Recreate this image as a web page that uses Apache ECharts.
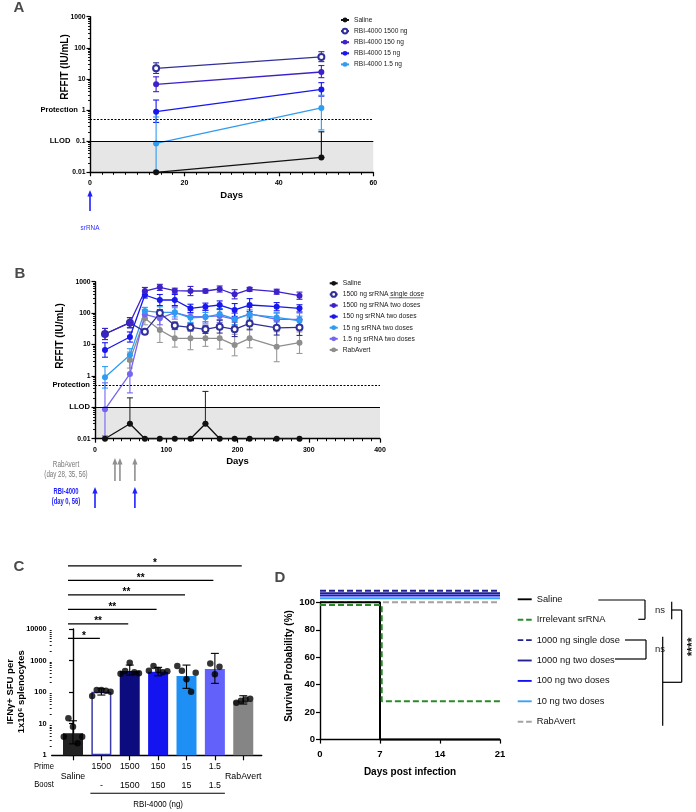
<!DOCTYPE html>
<html><head><meta charset="utf-8">
<script src="https://cdn.jsdelivr.net/npm/echarts@6/dist/echarts.min.js"></script>
<style>html,body{margin:0;padding:0;background:#fff}#c{width:696px;height:812px}</style>
</head><body><div id="c"></div>
<script>
// ---------------- Panel A data ----------------
const daysA = [14, 49];
const aSaline = [0.01, 0.03];
const aSalineHi = [0.01, 0.2];
const a1500 = [22, 51];
const a1500Lo = [15, 36];
const a1500Hi = [33, 75];
const a150 = [6.7, 16.7];
const a150Lo = [3.9, 11];
const a150Hi = [11.7, 27];
const a15 = [0.89, 4.6];
const a15Lo = [0.40, 2.8];
const a15Hi = [2.1, 7.6];
const a1p5 = [0.085, 1.17];
const a1p5Lo = [0.011, 0.23];
const a1p5Hi = [0.6, 3.0];
const protectionLevel = 0.5;
const llodLevel = 0.1;
const aArrowDays = [0];

// ---------------- Panel B data ----------------
const daysB = [14, 49, 70, 91, 112, 134, 155, 175, 196, 217, 255, 287];
const bSaline = [0.01, 0.03, 0.01, 0.01, 0.01, 0.01, 0.03, 0.01, 0.01, 0.01, 0.01, 0.01];
const bSalineHi = [null, 0.2, null, null, null, null, 0.32, null, null, null, null, null];
const b1500Single = [21.6, 49.5, 25.6, 100, 40, 35, 30.5, 37, 30.5, 47, 34, 35];
const b1500SingleF = [1.5, 1.45, 1.2, 1.3, 1.3, 1.3, 1.35, 1.6, 1.7, 1.6, 1.7, 1.8];
const b1500Two = [21.6, 49.5, 505, 660, 518, 505, 505, 585, 398, 571, 480, 358];
const b1500TwoF = [1.5, 1.45, 1.3, 1.25, 1.2, 1.4, 1.15, 1.25, 1.4, 1.15, 1.2, 1.3];
const b150 = [6.7, 17.3, 377, 261, 261, 142, 160, 181, 126, 181, 160, 142];
const b150F = [1.7, 1.45, 1.25, 1.5, 1.5, 1.35, 1.3, 1.35, 1.6, 1.6, 1.35, 1.3];
const b15 = [0.90, 4.6, 117, 106, 106, 71, 75, 93, 65, 91, 73, 57];
const b15F = [2.2, 1.6, 1.3, 1.5, 1.4, 1.4, 1.4, 1.5, 1.5, 1.4, 1.4, 1.4];
const b1p5 = [0.086, 1.15, 91, 68, 103, 77, 77, 81, 63, 94, 63, 63];
const b1p5F = [7, 4, 1.4, 1.6, 1.6, 1.6, 1.6, 1.6, 1.6, 1.6, 1.6, 1.6];
const bRab = [null, 3.2, 68, 29, 15.7, 15.7, 15.7, 15.7, 9.6, 15.7, 8.5, 11.4];
const bRabF = [null, 1.8, 1.6, 2.5, 1.9, 2.3, 1.8, 2.2, 2.2, 2.0, 3.0, 2.2];
const bRabArrowDays = [28, 35, 56];
const bRbiArrowDays = [0, 56];

// ---------------- Panel C data ----------------
const cPrime = ['Saline', '1500', '1500', '150', '15', '1.5', 'RabAvert'];
const cBoost = ['', '-', '1500', '150', '15', '1.5', ''];
const cMean = [5.0, 103, 465, 440, 323, 538, 53];
const cLo = [2.3, 81, 347, 330, 132, 190, 42];
const cHi = [12.4, 128, 720, 610, 720, 1690, 77];
const cPtsSaline = [3.9, 14.8, 8.0, 2.4, 3.9];
const cPts1500 = [75, 116, 116, 111, 103];
const cPts1500b = [380, 470, 850, 430, 400];
const cPts150 = [480, 670, 500, 424, 455];
const cPts15 = [670, 475, 254, 103, 411];
const cPts1p5 = [815, 366, 634];
const cPtsRab = [46, 53, 59, 62];
const cSigTargets = [1, 2, 3, 4, 5, 6];
const cSigLabels = ['*', '**', '**', '**', '**', '*'];

// ---------------- Panel D data ----------------
const dDaysSaline = [0, 7, 21];
const dSaline = [100, 0, 0];
const dDaysIrr = [0, 7.2, 21];
const dIrr = [98, 28, 28];
const dDaysFlat = [0, 21];
const d1000Single = [108.5, 108.5];
const d1000Two = [106.6, 106.6];
const d100 = [105, 105];
const d10 = [103, 103];
const dRab = [100, 100];

// ---------------- styling ----------------
const SANS = '"Liberation Sans",Arial,sans-serif';
const C = {
  black: '#111111', navy: '#30309a', violet: '#3c22c8', blue: '#1717ee',
  lblue: '#2f9cf2', lav: '#7466f2', gray: '#8e8e8e', dnavy: '#0c0c7e', green: '#2a8a2a'
};
const fmt = v => String(+(+v).toPrecision(6));
const near = (a, b) => Math.abs(a - b) < 1e-9 * Math.max(1, Math.abs(b));
// log-axis minor tick positions (2..9 within each decade)
const logMinor = (lo, hi) => { const out = []; for (let d = lo; d < hi * 0.999; d *= 10) for (let k = 2; k <= 9; k++) out.push(+(d * k).toPrecision(6)); return out; };

function lineSeries(name, idx, xs, ys, color, extra) {
  return Object.assign({
    name, type: 'line', xAxisIndex: idx, yAxisIndex: idx,
    data: xs.map((x, i) => [x, ys[i]]).filter(d => d[1] != null),
    symbol: 'circle', symbolSize: 6, showSymbol: true,
    lineStyle: { color, width: 1.3 }, itemStyle: { color },
    emphasis: { disabled: true }, z: 4, clip: false
  }, extra || {});
}
function errSeries(idx, pts, color, cap) {
  return {
    type: 'custom', xAxisIndex: idx, yAxisIndex: idx, silent: true, z: 3,
    data: pts, encode: { x: 0, y: [1, 2] },
    renderItem(params, api) {
      const x = api.value(0), lo = api.value(1), hi = api.value(2);
      const p1 = api.coord([x, hi]), p0 = api.coord([x, lo]);
      const w = cap || 3, st = { stroke: color, lineWidth: 1.1 };
      return { type: 'group', children: [
        { type: 'line', shape: { x1: p1[0], y1: p1[1], x2: p0[0], y2: p0[1] }, style: st },
        { type: 'line', shape: { x1: p1[0] - w, y1: p1[1], x2: p1[0] + w, y2: p1[1] }, style: st },
        { type: 'line', shape: { x1: p0[0] - w, y1: p0[1], x2: p0[0] + w, y2: p0[1] }, style: st }
      ]};
    }
  };
}
const errLoHi = (xs, lo, hi) => xs.map((x, i) => [x, lo[i], hi[i]]).filter(d => d[1] != null && d[2] != null);
const errF = (xs, v, f) => xs.map((x, i) => (v[i] == null || f[i] == null) ? null : [x, v[i] / f[i], v[i] * f[i]]).filter(Boolean);

const tickLbl = (size, bold) => ({ color: '#000', fontSize: size, fontWeight: bold ? 'bold' : 'normal', fontFamily: SANS });
const axLine = { show: true, lineStyle: { color: '#000', width: 1.4 } };
const axTick = (len) => ({ show: true, length: len, lineStyle: { color: '#000', width: 1.2 } });
const minorAxis = (grid, lo, hi) => ({ gridIndex: grid, type: 'log', logBase: 10, min: lo, max: hi, position: 'left',
  axisLine: { show: false }, splitLine: { show: false }, axisLabel: { show: false },
  axisTick: { show: true, length: 2, customValues: logMinor(lo, hi), lineStyle: { color: '#000', width: 0.9 } } });
const SOLID_ICON = 'path://M0,0h15v2h-15z';
const DASH_ICON = 'path://M0,0h6v2h-6zM9,0h6v2h-6z';

// legend geometry
const LEG_B = { left: 323.7, top: 273.3, itemWidth: 8, font: 6.7, lh: 10, gap: 1.1 };

// ---------------- option ----------------
const option = {
  animation: false,
  backgroundColor: '#fff',
  grid: [
    { left: 90, top: 16.7, width: 283.3, height: 155.6 },
    { left: 95, top: 281.7, width: 285, height: 157 },
    { left: 51.7, top: 629, width: 210, height: 126.3 },
    { left: 320, top: 602.3, width: 180, height: 137.3 }
  ],
  xAxis: [
    { gridIndex: 0, type: 'value', min: 0, max: 60, interval: 20, axisLine: axLine, axisTick: axTick(4),
      minorTick: { show: true, splitNumber: 8, length: 2.5, lineStyle: { color: '#000', width: 1 } },
      splitLine: { show: false }, axisLabel: Object.assign(tickLbl(7, true), { margin: 7, formatter: fmt }),
      name: 'Days', nameLocation: 'middle', nameGap: 18, nameTextStyle: { fontSize: 9.5, fontWeight: 'bold', fontFamily: SANS, color: '#000' } },
    { gridIndex: 1, type: 'value', min: 0, max: 400, interval: 100, axisLine: axLine, axisTick: axTick(4),
      minorTick: { show: true, splitNumber: 8, length: 2.5, lineStyle: { color: '#000', width: 1 } },
      splitLine: { show: false }, axisLabel: Object.assign(tickLbl(7, true), { margin: 7.5, formatter: fmt }),
      name: 'Days', nameLocation: 'middle', nameGap: 18, nameTextStyle: { fontSize: 9.5, fontWeight: 'bold', fontFamily: SANS, color: '#000' } },
    { gridIndex: 2, type: 'value', min: -0.75, max: 6.65, axisLine: axLine,
      axisTick: Object.assign(axTick(5), { customValues: cPrime.map((c, i) => i) }),
      splitLine: { show: false },
      axisLabel: Object.assign(tickLbl(8.8, false), {
        customValues: cPrime.map((c, i) => i), margin: 7, lineHeight: 9.2,
        formatter: v => { const i = Math.round(v); return cBoost[i] ? cPrime[i] + '\n \n' + cBoost[i] : ' \n' + cPrime[i] + '\n '; } }) },
    { gridIndex: 3, type: 'value', min: 0, max: 21, interval: 7, axisLine: axLine, axisTick: axTick(4),
      splitLine: { show: false }, axisLabel: Object.assign(tickLbl(9.5, true), { margin: 10, formatter: fmt }),
      name: 'Days post infection', nameLocation: 'middle', nameGap: 28, nameTextStyle: { fontSize: 10, fontWeight: 'bold', fontFamily: SANS, color: '#000' } }
  ],
  yAxis: [
    { gridIndex: 0, type: 'log', logBase: 10, min: 0.01, max: 1000, position: 'left', axisLine: axLine, axisTick: axTick(3.5), splitLine: { show: false },
      axisLabel: Object.assign(tickLbl(6.8, true), { margin: 4.5,
        formatter: v => near(v, 1) ? '{p|Protection}  ' + fmt(v) : near(v, 0.1) ? '{p|LLOD}   ' + fmt(v) : fmt(v),
        rich: { p: { fontSize: 7.6, fontWeight: 'bold', fontFamily: SANS, color: '#000' } } }) },
    { gridIndex: 1, type: 'log', logBase: 10, min: 0.01, max: 1000, position: 'left', axisLine: axLine, axisTick: axTick(3.5), splitLine: { show: false },
      axisLabel: Object.assign(tickLbl(6.8, true), { margin: 4.5, formatter: v => near(v, 0.1) ? '' : fmt(v) }) },
    { gridIndex: 2, type: 'log', logBase: 10, min: 1, max: 10000, position: 'left', axisLine: axLine, axisTick: axTick(4), splitLine: { show: false },
      axisLabel: Object.assign(tickLbl(7.4, true), { margin: 5, formatter: fmt }) },
    { gridIndex: 3, type: 'value', min: 0, max: 100, interval: 20, position: 'left', axisLine: axLine, axisTick: axTick(4), splitLine: { show: false },
      axisLabel: Object.assign(tickLbl(9.5, true), { margin: 5, formatter: fmt }) },
    minorAxis(0, 0.01, 1000),
    minorAxis(1, 0.01, 1000),
    minorAxis(2, 1, 10000)
  ],
  legend: [
    { data: ['A|Saline', 'A|RBI-4000 1500 ng', 'A|RBI-4000 150 ng', 'A|RBI-4000 15 ng', 'A|RBI-4000 1.5 ng'],
      formatter: n => n.split('|')[1], left: 335, top: 10, orient: 'vertical', itemWidth: 8, itemHeight: 6, itemGap: 1.1,
      selectedMode: false, textStyle: { fontSize: 6.6, fontFamily: SANS, lineHeight: 10, color: '#222' } },
    { data: ['B|Saline', 'B|1500 ng srRNA single dose', 'B|1500 ng srRNA two doses', 'B|150 ng srRNA two doses', 'B|15 ng srRNA two doses', 'B|1.5 ng srRNA two doses', 'B|RabAvert'],
      formatter: n => n.split('|')[1], left: LEG_B.left, top: LEG_B.top, orient: 'vertical', itemWidth: LEG_B.itemWidth, itemHeight: 6, itemGap: LEG_B.gap,
      selectedMode: false, textStyle: { fontSize: LEG_B.font, fontFamily: SANS, lineHeight: LEG_B.lh, color: '#222' } },
    { data: [
        { name: 'D|Saline', icon: SOLID_ICON }, { name: 'D|Irrelevant srRNA', icon: DASH_ICON },
        { name: 'D|1000 ng single dose', icon: DASH_ICON }, { name: 'D|1000 ng two doses', icon: SOLID_ICON },
        { name: 'D|100 ng two doses', icon: SOLID_ICON }, { name: 'D|10 ng two doses', icon: SOLID_ICON },
        { name: 'D|RabAvert', icon: DASH_ICON }],
      formatter: n => n.split('|')[1], left: 512.7, top: 588.3, orient: 'vertical', itemWidth: 14, itemHeight: 2.2, itemGap: 8.4,
      selectedMode: false, textStyle: { fontSize: 9.3, fontFamily: SANS, lineHeight: 12, color: '#111' } }
  ],
  series: []
};

const S = option.series;
// ---- A ----
const refMarks = (showLabels) => ({
  markArea: { silent: true, itemStyle: { color: '#e6e6e6' }, data: [[{ yAxis: 0.01 }, { yAxis: llodLevel }]], z: 0 },
  markLine: { silent: true, symbol: 'none', animation: false,
    data: [
      { yAxis: protectionLevel, lineStyle: { type: [2, 1.5], color: '#000', width: 1 }, label: { show: showLabels, formatter: 'Protection' } },
      { yAxis: llodLevel, lineStyle: { type: 'solid', color: '#000', width: 1.1 }, label: { show: showLabels, formatter: 'LLOD' } }
    ],
    label: { position: 'start', distance: 5, fontSize: 7.6, fontWeight: 'bold', fontFamily: SANS, color: '#000' } }
});
S.push(lineSeries('A|Saline', 0, daysA, aSaline, C.black, refMarks(false)));
S.push(errSeries(0, errLoHi(daysA, aSaline, aSalineHi), C.black));
S.push(lineSeries('A|RBI-4000 1500 ng', 0, daysA, a1500, C.navy, { symbol: 'emptyCircle', symbolSize: 6, itemStyle: { color: C.navy, borderWidth: 1.2 } }));
S.push(errSeries(0, errLoHi(daysA, a1500Lo, a1500Hi), C.navy));
S.push(lineSeries('A|RBI-4000 150 ng', 0, daysA, a150, C.violet));
S.push(errSeries(0, errLoHi(daysA, a150Lo, a150Hi), C.violet));
S.push(lineSeries('A|RBI-4000 15 ng', 0, daysA, a15, C.blue));
S.push(errSeries(0, errLoHi(daysA, a15Lo, a15Hi), C.blue));
S.push(lineSeries('A|RBI-4000 1.5 ng', 0, daysA, a1p5, C.lblue));
S.push(errSeries(0, errLoHi(daysA, a1p5Lo, a1p5Hi), C.lblue));

// ---- B ----
S.push(lineSeries('B|Saline', 1, daysB, bSaline, C.black, refMarks(true)));
S.push(errSeries(1, errLoHi(daysB, bSaline, bSalineHi), '#333'));
S.push(lineSeries('B|RabAvert', 1, daysB, bRab, C.gray));
S.push(errSeries(1, errF(daysB, bRab, bRabF), '#9a9a9a'));
S.push(lineSeries('B|1.5 ng srRNA two doses', 1, daysB, b1p5, C.lav));
S.push(errSeries(1, errF(daysB, b1p5, b1p5F), C.lav));
S.push(lineSeries('B|15 ng srRNA two doses', 1, daysB, b15, C.lblue));
S.push(errSeries(1, errF(daysB, b15, b15F), C.lblue));
S.push(lineSeries('B|1500 ng srRNA single dose', 1, daysB, b1500Single, C.navy, { symbol: 'emptyCircle', symbolSize: 6, itemStyle: { color: C.navy, borderWidth: 1.2 } }));
S.push(errSeries(1, errF(daysB, b1500Single, b1500SingleF), C.navy));
S.push(lineSeries('B|150 ng srRNA two doses', 1, daysB, b150, C.blue));
S.push(errSeries(1, errF(daysB, b150, b150F), C.blue));
S.push(lineSeries('B|1500 ng srRNA two doses', 1, daysB, b1500Two, C.violet));
S.push(errSeries(1, errF(daysB, b1500Two, b1500TwoF), C.violet));

// ---- C ----
const cBarStyles = [
  { color: '#222222' },
  { color: '#ffffff', borderColor: '#3a3aa8', borderWidth: 1.5 },
  { color: C.dnavy }, { color: '#1414f0' }, { color: '#1e8ff5' }, { color: '#6262fa' }, { color: '#858585' }
];
S.push({ type: 'bar', xAxisIndex: 2, yAxisIndex: 2, barWidth: 20, z: 2, silent: true,
  data: cMean.map((v, i) => ({ value: [i, v], itemStyle: cBarStyles[i] })) });
S.push(errSeries(2, cMean.map((v, i) => [i, cLo[i], cHi[i]]), '#000', 4));
const cGroups = [cPtsSaline, cPts1500, cPts1500b, cPts150, cPts15, cPts1p5, cPtsRab];
S.push({ type: 'scatter', xAxisIndex: 2, yAxisIndex: 2, z: 5, silent: true, symbolSize: 6.5, itemStyle: { color: '#000' },
  data: cGroups.flatMap((g, i) => g.map((v, j) => ({ value: [i, v], symbolOffset: [(j - (g.length - 1) / 2) * 4.6, 0] }))) });

// ---- D ----
const dLine = (name, xs, ys, color, type, extra) => lineSeries(name, 3, xs, ys, color,
  Object.assign({ symbol: 'none', showSymbol: false, lineStyle: { color, width: 2, type } }, extra || {}));
S.push(dLine('D|RabAvert', dDaysFlat, dRab, '#a3a3a3', [6, 3]));
S.push(dLine('D|10 ng two doses', dDaysFlat, d10, '#3aa2f6', 'solid'));
S.push(dLine('D|100 ng two doses', dDaysFlat, d100, '#1212f2', 'solid'));
S.push(dLine('D|1000 ng two doses', dDaysFlat, d1000Two, '#20208e', 'solid'));
S.push(dLine('D|1000 ng single dose', dDaysFlat, d1000Single, '#20208e', [6, 3]));
S.push(dLine('D|Saline', dDaysSaline, dSaline, '#000', 'solid', { step: 'end' }));
S.push(dLine('D|Irrelevant srRNA', dDaysIrr, dIrr, C.green, [6, 3], { step: 'end' }));

const chart = echarts.init(document.getElementById('c'), null, { renderer: 'canvas' });
chart.setOption(option);

// ---------------- annotations ----------------
const px = (xi, v) => chart.convertToPixel({ xAxisIndex: xi }, v);
const G = [];
const txt = (x, y, text, font, fill, align, rot, sx) => ({ type: 'text', x, y, rotation: rot || 0, scaleX: sx || 1, silent: true, z: 10,
  style: { text, font, fill: fill || '#000', align: align || 'center', verticalAlign: 'middle' } });
const seg = (x1, y1, x2, y2, w, color) => ({ type: 'line', silent: true, z: 10, shape: { x1, y1, x2, y2 }, style: { stroke: color || '#000', lineWidth: w || 1.2 } });
const arrow = (x, yTop, yBot, color) => ({ type: 'group', silent: true, z: 10, children: [
  { type: 'line', shape: { x1: x, y1: yTop + 4, x2: x, y2: yBot }, style: { stroke: color, lineWidth: 1.6 } },
  { type: 'polygon', shape: { points: [[x - 2.6, yTop + 6.5], [x, yTop], [x + 2.6, yTop + 6.5]] }, style: { fill: color } }
]});

// panel letters
G.push(txt(19, 8, 'A', 'bold 15px ' + SANS, '#4a4a4a'));
G.push(txt(20, 274, 'B', 'bold 15px ' + SANS, '#4a4a4a'));
G.push(txt(19, 567, 'C', 'bold 15px ' + SANS, '#4a4a4a'));
G.push(txt(280, 578, 'D', 'bold 15px ' + SANS, '#4a4a4a'));
// y axis names
G.push(txt(65, 67, 'RFFIT (IU/mL)', 'bold 10px ' + SANS, '#000', 'center', Math.PI / 2));
G.push(txt(60, 336, 'RFFIT (IU/mL)', 'bold 10px ' + SANS, '#000', 'center', Math.PI / 2));
G.push({ type: 'text', x: 16, y: 691.7, rotation: Math.PI / 2, silent: true, z: 10,
  style: { text: 'IFN\u03b3+ SFU per\n1x10\u2076 splenocytes', font: 'bold 9.5px ' + SANS, lineHeight: 11.7, fill: '#000', align: 'center', verticalAlign: 'middle' } });
G.push(txt(289, 666, 'Survival Probability (%)', 'bold 10px ' + SANS, '#000', 'center', Math.PI / 2));

// A arrow
aArrowDays.forEach(d => G.push(arrow(px(0, d), 190, 211, '#2020ff')));
G.push(txt(px(0, aArrowDays[0]), 228, 'srRNA', '8px ' + SANS, '#3030ff', 'center', 0, 0.8));
// B arrows
bRabArrowDays.forEach(d => G.push(arrow(px(1, d), 458, 481, '#909090')));
bRbiArrowDays.forEach(d => G.push(arrow(px(1, d), 487, 508, '#2020ff')));
G.push(txt(66, 465, 'RabAvert', '8.6px ' + SANS, '#777', 'center', 0, 0.74));
G.push(txt(66, 474.5, '(day 28, 35, 56)', '8.6px ' + SANS, '#777', 'center', 0, 0.72));
G.push(txt(66, 492, 'RBI-4000', 'bold 8.6px ' + SANS, '#2020ff', 'center', 0, 0.68));
G.push(txt(66, 502, '(day 0, 56)', 'bold 8.6px ' + SANS, '#2020ff', 'center', 0, 0.68));

// B legend underline on "single dose" (measured from the legend text)
{
  const ctx = document.createElement('canvas').getContext('2d');
  ctx.font = LEG_B.font + 'px ' + SANS;
  const w1 = ctx.measureText('1500 ng srRNA ').width, w2 = ctx.measureText('single dose').width;
  const x0 = LEG_B.left + 5 + LEG_B.itemWidth + 5 + w1;
  const yRow2 = LEG_B.top + 5 + LEG_B.lh * 1.5 + LEG_B.gap;
  G.push(seg(x0, yRow2 + 3.4, x0 + w2, yRow2 + 3.4, 0.7, '#333'));
}

// C significance bars
const cx0 = px(2, 0);
cSigTargets.forEach((t, k) => {
  const y = 638.3 - k * 14.5;
  const x2 = px(2, t) - 1.5;
  G.push(seg(cx0 - 5, y, x2, y, 1.2));
  G.push(txt((cx0 - 5 + x2) / 2, y - 2.5, cSigLabels[k], 'bold 10px ' + SANS));
});
// C Prime / Boost labels and RBI-4000 bracket
G.push(txt(44, 766.7, 'Prime', '9px ' + SANS, '#000', 'center', 0, 0.85));
G.push(txt(44, 785, 'Boost', '9px ' + SANS, '#000', 'center', 0, 0.85));
G.push(seg(px(2, 1) - 11, 793.3, px(2, 5) + 10, 793.3, 1.1));
G.push(txt((px(2, 1) + px(2, 5)) / 2, 804.3, 'RBI-4000 (ng)', '9px ' + SANS, '#000', 'center', 0, 0.88));

// D comparison brackets
G.push(seg(598.3, 600, 645, 600)); G.push(seg(645, 600, 645, 619.3)); G.push(seg(638.3, 619.3, 645, 619.3));
G.push(txt(655, 610, 'ns', '9.5px ' + SANS, '#222', 'left'));
G.push(seg(625, 640, 646, 640)); G.push(seg(646, 640, 646, 659)); G.push(seg(615, 659, 646, 659));
G.push(txt(655, 649, 'ns', '9.5px ' + SANS, '#222', 'left'));
G.push(seg(671.7, 601.7, 671.7, 619.3)); G.push(seg(671.7, 610, 681.7, 610));
G.push(seg(662.7, 636.7, 662.7, 725.7)); G.push(seg(662.7, 682.3, 681.7, 682.3));
G.push(seg(681.7, 610, 681.7, 682.3));
G.push(txt(693, 647, '****', 'bold 12px ' + SANS, '#111', 'center', Math.PI / 2));

chart.setOption({ graphic: G });
</script></body></html>
